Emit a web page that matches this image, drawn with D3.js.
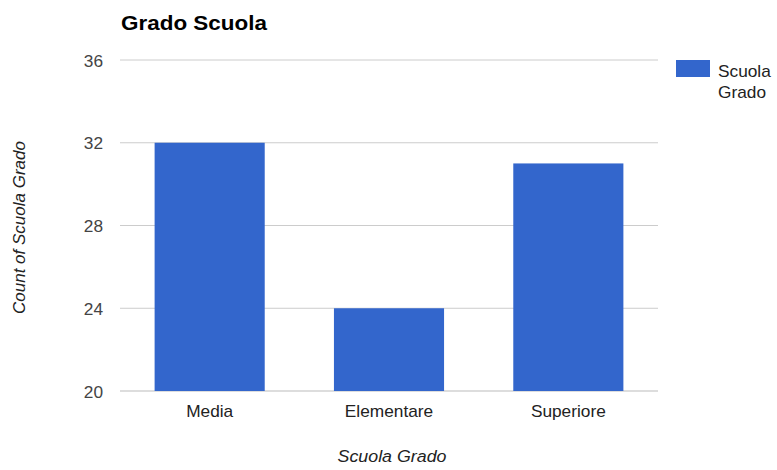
<!DOCTYPE html>
<html>
<head>
<meta charset="utf-8">
<script src="https://cdn.jsdelivr.net/npm/d3@7"></script>
<style>
  body { margin: 0; background: #fff; }
  text { font-family: "Liberation Sans", Arial, sans-serif; }
</style>
</head>
<body>
<div class="bar_chart"></div>
<script>
const categories = ["Media", "Elementare", "Superiore"]
const counts = [32, 24, 31]
const yTicks = [20, 24, 28, 32, 36]
const seriesName = "Scuola Grado"

// the reference text looks a little wider than normal
const stretch = 1.08

function drawBars() {
    const dataset = categories.map((c, i) => ({ grado: c, count: counts[i] }))

    let dimensions = {
        width: 777,
        height: 470,
        margin: { top: 60, right: 119, bottom: 79, left: 120 }
    }
    dimensions.boundedWidth = dimensions.width - dimensions.margin.left - dimensions.margin.right
    dimensions.boundedHeight = dimensions.height - dimensions.margin.top - dimensions.margin.bottom

    const wrapper = d3.select(".bar_chart")
        .append("svg")
        .attr("width", dimensions.width)
        .attr("height", dimensions.height)

    const bounds = wrapper.append("g")
        .attr("transform", `translate(${dimensions.margin.left},${dimensions.margin.top})`)

    const xScale = d3.scaleBand()
        .domain(categories)
        .range([0, dimensions.boundedWidth])
        .paddingInner(0.386)
        .paddingOuter(0.193)

    const yScale = d3.scaleLinear()
        .domain([20, 36])
        .range([dimensions.boundedHeight, 0])

    // gridlines
    bounds.append("g")
        .selectAll("line")
        .data(yTicks)
        .join("line")
        .attr("x1", 0)
        .attr("x2", dimensions.boundedWidth)
        .attr("y1", d => yScale(d))
        .attr("y2", d => yScale(d))
        .attr("stroke", d => d === 20 ? "#bbb" : "#ccc")
        .attr("stroke-width", 1)

    // bars
    bounds.append("g")
        .selectAll("rect")
        .data(dataset)
        .join("rect")
        .attr("x", d => xScale(d.grado))
        .attr("y", d => yScale(d.count))
        .attr("width", xScale.bandwidth())
        .attr("height", d => yScale(20) - yScale(d.count))
        .attr("fill", "#3366cc")

    // y axis
    const yAxis = bounds.append("g")
        .call(d3.axisLeft(yScale).tickValues(yTicks).tickSize(0).tickPadding(15.7))
    yAxis.select(".domain").remove()
    yAxis.selectAll("text")
        .attr("fill", "#444")
        .attr("dy", "0.38em")
        .attr("transform", `scale(${stretch},1)`)
        .style("font-size", "16px")

    // x axis
    const xAxis = bounds.append("g")
        .attr("transform", `translate(0,${dimensions.boundedHeight})`)
        .call(d3.axisBottom(xScale).tickSize(0).tickPadding(15))
    xAxis.select(".domain").remove()
    xAxis.selectAll("text")
        .attr("fill", "#222")
        .attr("transform", `scale(${stretch},1)`)
        .style("font-size", "16px")

    // title
    wrapper.append("text")
        .attr("transform", "translate(121,30) scale(1.07,1)")
        .attr("font-size", "21px")
        .attr("font-weight", "bold")
        .attr("fill", "#000")
        .text("Grado Scuola")

    // axis titles
    wrapper.append("text")
        .attr("transform", `translate(${dimensions.margin.left + dimensions.boundedWidth / 2 + 3},462) scale(${stretch},1)`)
        .attr("text-anchor", "middle")
        .attr("font-size", "16.5px")
        .attr("font-style", "italic")
        .attr("fill", "#222")
        .text("Scuola Grado")

    wrapper.append("text")
        .attr("transform", `translate(25,${dimensions.margin.top + dimensions.boundedHeight / 2 + 2}) rotate(-90)`)
        .attr("text-anchor", "middle")
        .attr("font-size", "17px")
        .attr("font-style", "italic")
        .attr("fill", "#222")
        .text("Count of " + seriesName)

    // legend
    const legend = wrapper.append("g").attr("transform", "translate(676,60)")
    legend.append("rect")
        .attr("width", 34)
        .attr("height", 17)
        .attr("fill", "#3366cc")
    legend.append("text")
        .attr("transform", `translate(42,16.5) scale(${stretch},1)`)
        .attr("font-size", "16px")
        .attr("fill", "#222")
        .selectAll("tspan")
        .data(seriesName.split(" "))
        .join("tspan")
        .attr("x", 0)
        .attr("dy", (d, i) => i === 0 ? 0 : 21.6)
        .text(d => d)
}

drawBars()
</script>
</body>
</html>
